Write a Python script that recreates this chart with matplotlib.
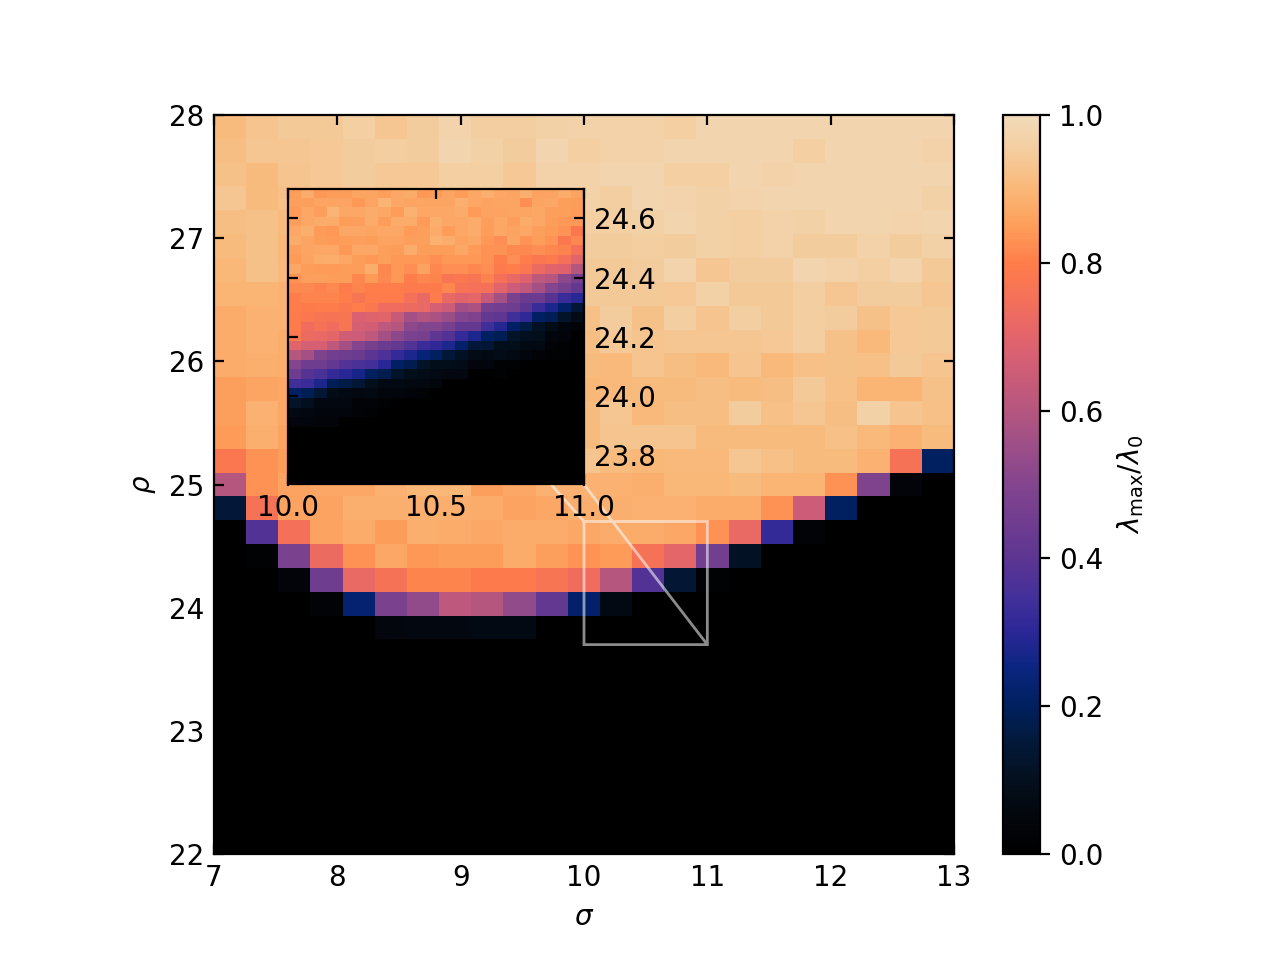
import matplotlib
matplotlib.use("Agg")
import matplotlib.pyplot as plt
from matplotlib.colors import LinearSegmentedColormap

W, H = 1280, 960

cmap_stops = [
    (0.00, "#000000"), (0.05, "#03060c"), (0.10, "#04101f"), (0.15, "#03193a"),
    (0.20, "#00205f"), (0.25, "#0a2580"), (0.30, "#2b2796"), (0.35, "#45309a"),
    (0.40, "#5c3592"), (0.50, "#83458e"), (0.55, "#9c4e88"), (0.60, "#b5567f"),
    (0.65, "#cc5c78"), (0.70, "#e2646c"), (0.75, "#f4705a"), (0.80, "#ff7d4b"),
    (0.85, "#fe9d5a"), (0.90, "#fab777"), (0.95, "#f4cc9c"), (1.00, "#f2dbba"),
]

main_values = [
    [.91,.93,.945,.945,.96,.935,.95,.975,.955,.955,.965,.97,.97,.97,.96,.98,.98,.98,.98,.98,.98,.98,.98],
    [.915,.935,.935,.94,.95,.955,.95,.98,.965,.95,.98,.96,.97,.97,.98,.98,.98,.98,.96,.98,.98,.98,.97],
    [.925,.91,.93,.94,.95,.94,.94,.96,.96,.94,.97,.97,.98,.98,.96,.96,.98,.97,.98,.98,.98,.98,.98],
    [.935,.91,.92,.93,.94,.93,.94,.95,.95,.94,.96,.97,.955,.98,.975,.965,.975,.98,.98,.98,.98,.98,.965],
    [.915,.925,.91,.92,.93,.93,.94,.94,.94,.94,.95,.96,.96,.965,.98,.965,.96,.97,.965,.98,.98,.975,.98],
    [.91,.925,.90,.91,.92,.92,.93,.93,.93,.94,.95,.95,.95,.955,.95,.965,.96,.97,.95,.95,.97,.95,.965],
    [.90,.925,.905,.90,.91,.91,.92,.92,.92,.93,.94,.945,.945,.95,.975,.935,.95,.95,.98,.97,.96,.975,.945],
    [.895,.895,.89,.90,.90,.91,.91,.92,.92,.93,.93,.945,.945,.945,.94,.965,.945,.945,.955,.935,.95,.95,.935],
    [.875,.89,.89,.89,.90,.90,.91,.91,.91,.92,.92,.92,.95,.925,.955,.93,.955,.945,.955,.95,.925,.94,.945],
    [.875,.89,.88,.89,.89,.90,.90,.90,.91,.91,.91,.915,.94,.93,.935,.935,.935,.94,.955,.925,.905,.94,.945],
    [.875,.885,.88,.88,.89,.89,.90,.90,.90,.90,.91,.91,.905,.93,.915,.905,.93,.905,.92,.925,.92,.945,.93],
    [.855,.865,.87,.88,.88,.89,.89,.89,.90,.90,.90,.90,.905,.91,.91,.915,.91,.915,.945,.92,.895,.895,.925],
    [.855,.89,.87,.87,.88,.88,.89,.89,.90,.90,.90,.91,.935,.905,.915,.915,.95,.92,.935,.915,.965,.93,.92],
    [.845,.885,.86,.87,.88,.88,.88,.89,.89,.90,.90,.91,.93,.93,.93,.91,.91,.91,.91,.92,.905,.89,.91],
    [.78,.83,.85,.87,.87,.88,.88,.89,.89,.89,.90,.93,.91,.90,.905,.905,.935,.92,.91,.91,.89,.76,.20],
    [.60,.83,.86,.87,.87,.89,.90,.90,.855,.87,.89,.89,.89,.885,.90,.90,.91,.895,.895,.83,.49,.04,0],
    [.15,.76,.86,.86,.885,.885,.885,.885,.875,.86,.87,.885,.885,.89,.89,.875,.875,.83,.65,.20,.01,0,0],
    [0,.38,.75,.86,.875,.85,.885,.875,.87,.875,.875,.87,.875,.875,.87,.83,.72,.32,.03,0,0,0,0],
    [0,.02,.48,.73,.83,.87,.84,.85,.85,.875,.855,.835,.845,.76,.71,.46,.11,0,0,0,0,0,0],
    [0,0,.04,.45,.72,.76,.81,.81,.79,.79,.77,.74,.60,.38,.14,.02,0,0,0,0,0,0,0],
    [0,0,0,.03,.23,.48,.53,.62,.60,.53,.42,.22,.07,0,0,0,0,0,0,0,0,0,0],
    [0,0,0,0,0,.055,.06,.065,.07,.07,.01,.005,0,0,0,0,0,0,0,0,0,0,0],
    [0]*23, [0]*23, [0]*23, [0]*23, [0]*23, [0]*23, [0]*23, [0]*23, [0]*23,
]

inset_values = [
    [.855,.875,.84,.85,.85,.865,.865,.855,.87,.875,.84,.845,.865,.85,.87,.885,.87,.865,.885,.86,.86,.875,.86],
    [.855,.855,.865,.865,.865,.84,.865,.895,.87,.865,.865,.865,.865,.885,.87,.86,.865,.865,.825,.865,.87,.855,.85],
    [.845,.87,.855,.895,.87,.87,.875,.87,.85,.89,.87,.87,.87,.875,.845,.86,.86,.865,.865,.87,.855,.855,.845],
    [.855,.87,.875,.875,.85,.855,.875,.85,.875,.875,.845,.885,.87,.87,.875,.855,.87,.855,.875,.87,.85,.84,.84],
    [.87,.885,.845,.84,.87,.87,.865,.87,.87,.845,.855,.875,.85,.87,.875,.85,.87,.86,.87,.855,.845,.835,.785],
    [.875,.865,.85,.845,.85,.855,.85,.86,.86,.855,.855,.89,.88,.86,.87,.84,.825,.865,.835,.85,.835,.785,.815],
    [.855,.865,.87,.87,.84,.87,.87,.855,.85,.875,.85,.85,.85,.87,.845,.83,.83,.82,.82,.825,.815,.805,.75],
    [.845,.86,.875,.88,.87,.85,.84,.855,.84,.84,.84,.825,.84,.84,.84,.83,.80,.825,.80,.78,.79,.75,.70],
    [.87,.85,.845,.845,.85,.85,.88,.815,.84,.825,.86,.815,.825,.825,.815,.825,.79,.80,.78,.73,.70,.69,.60],
    [.83,.855,.855,.85,.85,.815,.845,.82,.84,.80,.815,.81,.77,.78,.77,.805,.75,.72,.69,.62,.60,.52,.47],
    [.82,.82,.805,.82,.795,.81,.80,.80,.80,.79,.79,.79,.815,.765,.755,.75,.70,.65,.62,.57,.50,.47,.42],
    [.80,.81,.81,.81,.80,.77,.795,.795,.795,.755,.72,.795,.72,.70,.71,.64,.57,.48,.44,.44,.39,.33,.30],
    [.80,.79,.795,.795,.785,.80,.785,.735,.735,.73,.72,.67,.65,.56,.58,.47,.46,.45,.40,.33,.28,.22,.14],
    [.795,.78,.77,.765,.77,.68,.695,.70,.64,.57,.59,.58,.55,.50,.49,.42,.41,.34,.31,.21,.19,.12,.08],
    [.795,.74,.76,.74,.77,.67,.665,.62,.60,.52,.50,.50,.47,.42,.42,.34,.29,.21,.17,.11,.08,.05,.03],
    [.78,.73,.72,.71,.66,.65,.62,.57,.52,.48,.47,.41,.38,.32,.28,.21,.19,.12,.10,.09,.05,.04,.01],
    [.70,.67,.67,.62,.57,.50,.47,.44,.42,.38,.33,.31,.28,.22,.15,.14,.09,.09,.07,.07,.03,.02,.01],
    [.60,.57,.49,.46,.45,.44,.40,.37,.32,.28,.24,.20,.15,.11,.08,.07,.08,.07,.05,.03,.02,.02,.01],
    [.50,.45,.45,.42,.38,.36,.35,.30,.21,.18,.12,.09,.09,.08,.05,.05,.02,.02,.01,.01,.01,0,0],
    [.45,.39,.36,.32,.30,.27,.20,.18,.12,.09,.08,.07,.06,.06,.01,.01,.02,.01,.01,0,0,0,0],
    [.34,.33,.28,.19,.17,.14,.09,.07,.07,.06,.06,.05,.01,.01,.01,.01,.01,0,0,0,0,0,0],
    [.21,.19,.14,.08,.07,.06,.07,.05,.05,.04,.03,.01,.01,.01,0,0,0,0,0,0,0,0,0],
    [.12,.10,.06,.06,.06,.03,.03,.02,.01,.01,0,0,0,0,0,0,0,0,0,0,0,0,0],
    [.07,.06,.05,.05,.05,.03,.02,.01,.01,0,0,0,0,0,0,0,0,0,0,0,0,0,0],
    [.05,.05,.04,.04,.01,.01,.01,0,0,0,0,0,0,0,0,0,0,0,0,0,0,0,0],
    [.01,.01,.01,.01,.01,0,0,0,0,0,0,0,0,0,0,0,0,0,0,0,0,0,0],
    [.01,.01,.01,0,0,0,0,0,0,0,0,0,0,0,0,0,0,0,0,0,0,0,0],
    [0]*23, [0]*23, [0]*23, [0]*23,
]

main_extent = [7, 13, 22, 28]
inset_extent = [10, 11, 23.7, 24.7]
main_xticks = [7, 8, 9, 10, 11, 12, 13]
main_yticks = [22, 23, 24, 25, 26, 27, 28]
inset_xticks = [10.0, 10.5, 11.0]
inset_yticks = [23.8, 24.0, 24.2, 24.4, 24.6]
cbar_ticks = [0.0, 0.2, 0.4, 0.6, 0.8, 1.0]

cmap = LinearSegmentedColormap.from_list("flame", cmap_stops, N=256)

fig = plt.figure(figsize=(6.4, 4.8), dpi=200)
ax = fig.add_axes([214 / W, 1 - 854 / H, 740 / W, 739 / H])
im = ax.imshow(main_values, extent=main_extent, origin="upper", cmap=cmap,
               vmin=0, vmax=1, aspect="auto", interpolation="nearest")
ax.set_xticks(main_xticks)
ax.set_yticks(main_yticks)
ax.tick_params(direction="in", top=True, right=True, length=3.5)
ax.set_xlabel(r"$\sigma$")
ax.set_ylabel(r"$\rho$")

axins = ax.inset_axes([0.1, 0.5, 0.4, 0.4])
axins.imshow(inset_values, extent=inset_extent, origin="upper", cmap=cmap,
             vmin=0, vmax=1, aspect="auto", interpolation="nearest")
axins.set_xlim(inset_extent[0], inset_extent[1])
axins.set_ylim(inset_extent[2], inset_extent[3])
axins.set_xticks(inset_xticks)
axins.set_yticks(inset_yticks)
axins.set_xticklabels(["10.0", "10.5", "11.0"])
axins.tick_params(direction="in", top=True, right=True, left=True, bottom=True,
                  labelleft=False, labelright=True, length=3.5)

indicator = ax.indicate_inset_zoom(axins, edgecolor="white", alpha=0.55, linewidth=1.0)
conns = indicator.connectors
for c in conns:
    c.set_visible(False)
conns[1].set_visible(True)
conns[2].set_visible(True)

cax = fig.add_axes([1003 / W, 1 - 854 / H, 37 / W, 739 / H])
cb = fig.colorbar(im, cax=cax)
cb.set_ticks(cbar_ticks)
cb.set_label(r"$\lambda_{\mathrm{max}}/\lambda_{0}$")

fig.savefig("out.png", dpi=200)
